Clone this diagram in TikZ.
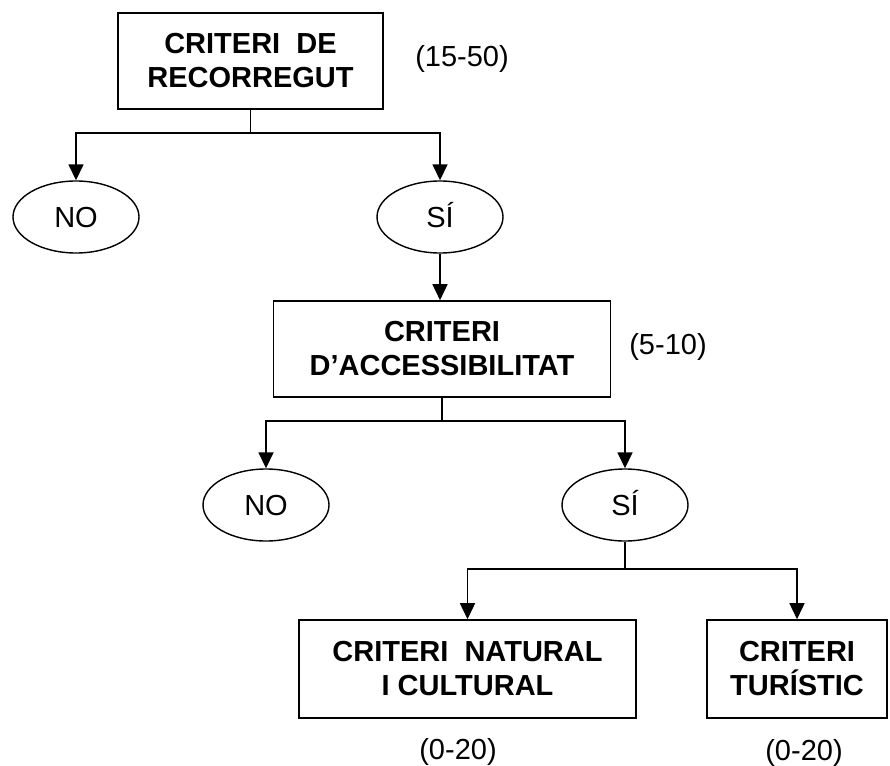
\documentclass[tikz,border=0pt]{standalone}
\usepackage{fontspec}
\setmainfont{Liberation Sans}
\usetikzlibrary{shapes.geometric,arrows.meta}
\begin{document}
\begin{tikzpicture}[x=1pt,y=-1pt,
  box/.style={draw,line width=1.6pt,rectangle,inner sep=0pt,align=center,font=\fontsize{29}{34}\selectfont\bfseries},
  oval/.style={draw,line width=1.4pt,ellipse,inner sep=0pt,minimum width=126pt,minimum height=72pt,text height=21pt,text depth=0pt,font=\fontsize{29}{34}\selectfont},
  lbl/.style={font=\fontsize{29}{34}\selectfont,inner sep=0pt},
  conn/.style={line width=1.6pt},
  arr/.style={conn,-{Triangle[length=16pt,width=15pt]}}]
\useasboundingbox[fill=white] (0,0) rectangle (890,765);
\node[box,minimum width=265pt,minimum height=96pt] (b1) at (250.5,61) {CRITERI\ \ DE\\RECORREGUT};
\node[lbl] (p1) at (462,59) {(15-50)};
\node[oval] (no1) at (76,217) {NO};
\node[oval] (si1) at (440,217) {SÍ};
\node[box,minimum width=337pt,minimum height=96pt] (b2) at (442,349) {CRITERI\\D’ACCESSIBILITAT};
\node[lbl] (p2) at (668,347) {(5-10)};
\node[oval] (no2) at (266,505) {NO};
\node[oval] (si2) at (625,505) {SÍ};
\node[box,minimum width=337pt,minimum height=98pt] (b3) at (467.5,669) {CRITERI\ \ NATURAL\\I CULTURAL};
\node[box,minimum width=180pt,minimum height=98pt] (b4) at (797,669) {CRITERI\\TURÍSTIC};
\node[lbl] (p3) at (458,752) {(0-20)};
\node[lbl] (p4) at (804,753) {(0-20)};
\coordinate (j1) at (250.5,133);
\coordinate (j2) at (442,421);
\coordinate (j3) at (625,569);
\draw[conn] (b1.south) -- (j1);
\draw[arr] (j1) -| (no1.north);
\draw[arr] (j1) -| (si1.north);
\draw[arr] (si1.south) -- (si1.south |- b2.north);
\draw[conn] (b2.south) -- (j2);
\draw[arr] (j2) -| (no2.north);
\draw[arr] (j2) -| (si2.north);
\draw[conn] (si2.south) -- (j3);
\draw[arr] (j3) -| (b3.north);
\draw[arr] (j3) -| (b4.north);
\end{tikzpicture}
\end{document}
